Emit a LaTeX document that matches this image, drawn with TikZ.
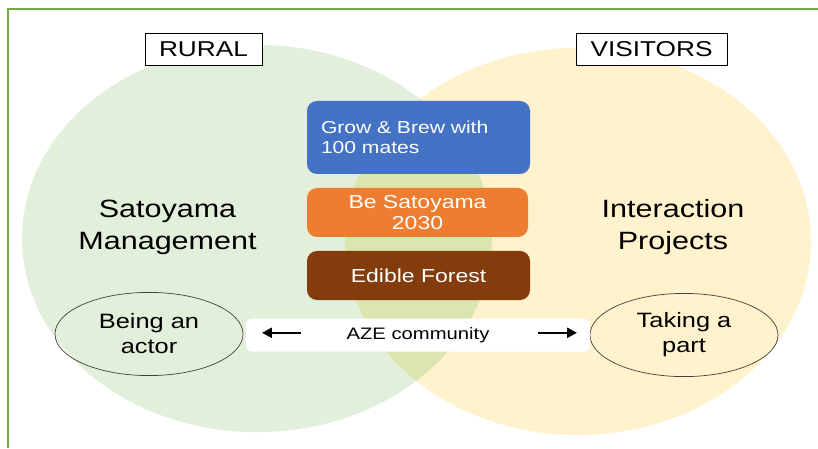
\documentclass[tikz,border=0pt]{standalone}
\usepackage{fontspec}
\setmainfont{Liberation Sans}[FakeStretch=1.22]
\usepackage{tikz}
\usetikzlibrary{shapes.geometric}
\usetikzlibrary{arrows.meta}
\usetikzlibrary{shadows}
\definecolor{framegreen}{HTML}{70AD47}
\definecolor{ruralgreen}{HTML}{E2EFDA}
\definecolor{visitoryellow}{HTML}{FFF2CC}
\definecolor{sharedgreen}{HTML}{DAE5B0}
\definecolor{growblue}{HTML}{4472C4}
\definecolor{satoorange}{HTML}{ED7D31}
\definecolor{forestbrown}{HTML}{843C0C}
\tikzset{
	headstyle/.style={rectangle,draw=black,fill=white,line width=0.5pt,inner sep=0pt,minimum height=0.8cm,font=\fontsize{15.3}{18}\selectfont,drop shadow={shadow xshift=0.7pt,shadow yshift=-0.7pt,opacity=0.45}},
	sidestyle/.style={align=center,font=\fontsize{17.8}{22.4}\selectfont},
	projectstyle/.style={rectangle,rounded corners=0.25cm,text=white,inner sep=0pt,minimum width=5.575cm,minimum height=1.225cm,align=center,font=\fontsize{13.4}{15.6}\selectfont},
	ovalstyle/.style={ellipse,draw=black!75,line width=0.5pt,inner sep=0pt,minimum width=4.7cm,minimum height=2.08cm,align=center,font=\fontsize{14.8}{17.8}\selectfont},
	bandstyle/.style={rectangle,rounded corners=0.15cm,fill=white,inner sep=0pt,minimum width=8.6cm,minimum height=0.825cm,font=\fontsize{11.8}{14}\selectfont},
	arrowstyle/.style={line width=1.7pt,-{Triangle[length=7pt,width=7pt]}}
}
\begin{document}
\begin{tikzpicture}
		\useasboundingbox (0,0) rectangle (20.45,11.2);
		% the two circles and their overlap
		\fill[ruralgreen] (6.425,5.2375) ellipse (5.875 and 4.84);
		\fill[visitoryellow] (14.45,5.1625) ellipse (5.825 and 4.84);
		\begin{scope}
			\clip (6.425,5.2375) ellipse (5.875 and 4.84);
			\fill[sharedgreen] (14.45,5.1625) ellipse (5.825 and 4.84);
		\end{scope}
		\draw[framegreen,line width=1.3pt] (0.2,0) -- (0.2,10.975) -- (20.45,10.975);
		\node[headstyle,minimum width=2.925cm] (r) at (5.0875,9.975) {RURAL};
		\node[headstyle,minimum width=3.775cm] (v) at (16.2875,9.975) {VISITORS};
		\node[sidestyle] (sm) at (4.1875,5.52) {Satoyama\\Management};
		\node[sidestyle] (ip) at (16.825,5.53) {Interaction\\Projects};
		\node[projectstyle,fill=growblue,minimum height=1.825cm,text width=4.875cm,inner xsep=0.35cm,align=left,font=\fontsize{12.3}{14.4}\selectfont] (g) at (10.4625,7.7625) {Grow \& Brew with\\100 mates};
		\node[projectstyle,fill=satoorange,minimum width=5.525cm] (s) at (10.4375,5.8875) {Be Satoyama\\2030};
		\node[projectstyle,fill=forestbrown] (e) at (10.4625,4.3125) {Edible Forest};
		\node[ovalstyle] (ba) at (3.725,2.85) {Being an\\actor};
		\node[ovalstyle] (tp) at (17.1,2.825) {Taking a\\part};
		\node[bandstyle] (aze) at (10.45,2.82) {AZE community};
		\coordinate (al) at (6.55,2.88);
		\coordinate (ab) at (7.525,2.88);
		\coordinate (ar) at (14.425,2.88);
		\coordinate (aa) at (13.45,2.88);
		\draw[arrowstyle] (ab)--(al);
		\draw[arrowstyle] (aa)--(ar);
		\end{tikzpicture}
\end{document}
